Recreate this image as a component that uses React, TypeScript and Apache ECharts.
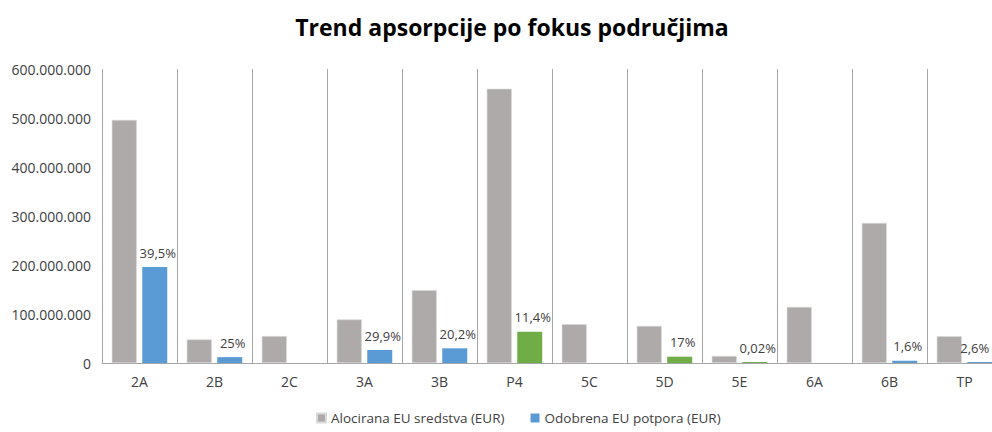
import React, { useEffect, useRef } from "react";
import * as echarts from "echarts";

const categories = ["2A", "2B", "2C", "3A", "3B", "P4", "5C", "5D", "5E", "6A", "6B", "TP"];
const allocated = [496e6, 48e6, 55e6, 88.7e6, 148.7e6, 559.7e6, 79.1e6, 75.7e6, 14.3e6, 114.5e6, 285.7e6, 54.6e6];
const approved: (number | null)[] = [195.9e6, 12e6, null, 26.5e6, 30e6, 63.8e6, null, 12.9e6, 0.003e6, null, 4.6e6, 1.4e6];
const percentLabels = ["39,5%", "25%", "", "29,9%", "20,2%", "11,4%", "", "17%", "0,02%", "", "1,6%", "2,6%"];
const greenCategories = ["P4", "5D", "5E"];
const yTicks = [0, 100e6, 200e6, 300e6, 400e6, 500e6, 600e6];
const seriesNames = ["Alocirana EU sredstva (EUR)", "Odobrena EU potpora (EUR)"];
const title = "Trend apsorpcije po fokus područjima";

const GRAY = "#AEAAAA";
const BLUE = "#5B9BD5";
const GREEN = "#70AD47";

function fmt(v: number): string {
  return String(Math.round(v)).replace(/\B(?=(\d{3})+(?!\d))/g, ".");
}

export default function App() {
  const ref = useRef<HTMLDivElement>(null);
  useEffect(() => {
    if (!ref.current) return;
    const chart = echarts.init(ref.current, null, { renderer: "svg" });
    const font = "'Open Sans', sans-serif";
    const lastIdx = categories.length - 1;
    chart.setOption({
      animation: false,
      textStyle: { fontFamily: font },
      title: {
        text: title,
        top: 10,
        left: 507,
        textAlign: "center",
        textStyle: { fontFamily: font, fontWeight: "bold", fontSize: 23, color: "#000" },
      },
      legend: {
        bottom: 2,
        left: 311,
        itemWidth: 9,
        itemHeight: 9,
        itemGap: 26,
        icon: "rect",
        textStyle: { fontFamily: font, fontSize: 13.5, color: "#404040" },
        data: [
          { name: seriesNames[0], itemStyle: { color: GRAY } },
          { name: seriesNames[1], itemStyle: { color: BLUE } },
        ],
      },
      grid: { left: 102, top: 69, width: 900, height: 294, containLabel: false, outerBoundsMode: "none" },
      xAxis: {
        type: "category",
        data: categories,
        axisLine: { lineStyle: { color: "#A6A6A6", width: 1 } },
        axisTick: { show: false },
        axisLabel: { color: "#404040", fontSize: 14, margin: 11, fontFamily: font },
        splitLine: { show: true, lineStyle: { color: "#A6A6A6", width: 1 } },
      },
      yAxis: {
        type: "value",
        min: yTicks[0],
        max: yTicks[yTicks.length - 1],
        interval: yTicks[1] - yTicks[0],
        axisLine: { show: false },
        axisTick: { show: false },
        splitLine: { show: false },
        axisLabel: { color: "#404040", fontSize: 14, margin: 11, formatter: (v: number) => fmt(v), fontFamily: font },
      },
      series: [
        {
          name: seriesNames[0],
          type: "bar",
          data: allocated,
          barWidth: 25,
          barGap: "22%",
          itemStyle: { color: GRAY, borderColor: "#D9D9D9", borderWidth: 0.6 },
        },
        {
          name: seriesNames[1],
          type: "bar",
          data: approved.map((v, i) => ({
            value: v,
            itemStyle: { color: greenCategories.includes(categories[i]) ? GREEN : BLUE },
            ...(i === lastIdx ? { label: { offset: [-5, 0] } } : {}),
          })),
          barWidth: 25,
          barMinHeight: 1,
          itemStyle: { color: BLUE },
          label: {
            show: true,
            position: "top",
            distance: 8,
            offset: [3, 0],
            color: "#404040",
            fontSize: 13,
            fontFamily: font,
            formatter: (p: any) => percentLabels[p.dataIndex],
          },
        },
      ],
    });
    return () => chart.dispose();
  }, []);
  return (
    <div
      ref={ref}
      style={{ position: "absolute", left: 0, top: 0, width: 992, height: 432, background: "#fff" }}
    />
  );
}
